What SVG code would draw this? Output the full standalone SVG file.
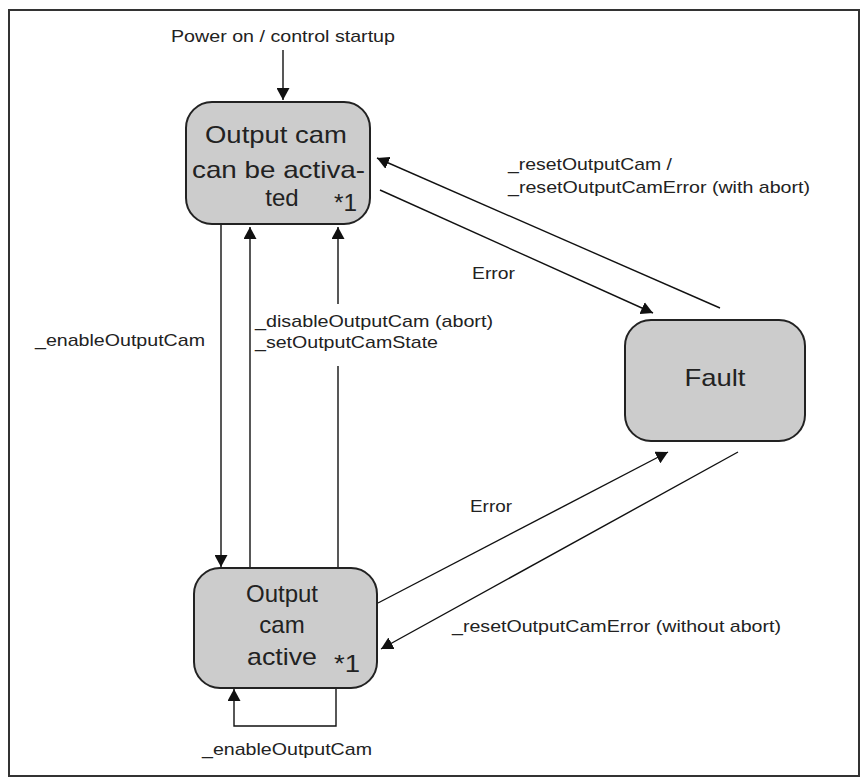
<svg xmlns="http://www.w3.org/2000/svg" width="861" height="782" viewBox="0 0 861 782">
<style>
.node{fill:#cccccc;stroke:#222;stroke-width:2}
.lbl{font-family:"Liberation Sans",Arial,sans-serif;font-size:17px;fill:#222}
.nt{font-family:"Liberation Sans",Arial,sans-serif;font-size:24px;fill:#222}
.c{fill:none;stroke:#111;stroke-width:1.4}
</style>
<defs>
<marker id="ah" markerUnits="userSpaceOnUse" markerWidth="13" markerHeight="13" refX="12" refY="6.5" orient="auto">
<path d="M0,0 L12,6.5 L0,13 z" fill="#111"/>
</marker>
</defs>
<rect x="9" y="10" width="850" height="766" fill="#fff" stroke="#333" stroke-width="2"/>
<g id="connectors">
<line class="c" x1="283" y1="50" x2="283" y2="100" marker-end="url(#ah)"/>
<line class="c" x1="221" y1="224" x2="221" y2="567" marker-end="url(#ah)"/>
<line class="c" x1="250" y1="568" x2="250" y2="227" marker-end="url(#ah)"/>
<line class="c" x1="338" y1="568" x2="338" y2="366"/>
<line class="c" x1="338" y1="304" x2="338" y2="227" marker-end="url(#ah)"/>
<line class="c" x1="720" y1="308" x2="377" y2="158" marker-end="url(#ah)"/>
<line class="c" x1="380" y1="190" x2="653" y2="313" marker-end="url(#ah)"/>
<line class="c" x1="378" y1="603" x2="668" y2="452" marker-end="url(#ah)"/>
<line class="c" x1="738" y1="452" x2="381" y2="649" marker-end="url(#ah)"/>
<polyline class="c" points="336,688 336,726 234,726 234,689" marker-end="url(#ah)"/>
<text class="lbl" x="171" y="42" textLength="224" lengthAdjust="spacingAndGlyphs">Power on / control startup</text>
<text class="lbl" x="35" y="346" textLength="170" lengthAdjust="spacingAndGlyphs">_enableOutputCam</text>
<text class="lbl" x="255" y="327" textLength="238" lengthAdjust="spacingAndGlyphs">_disableOutputCam (abort)</text>
<text class="lbl" x="255" y="348" textLength="183" lengthAdjust="spacingAndGlyphs">_setOutputCamState</text>
<text class="lbl" x="508" y="170" textLength="164" lengthAdjust="spacingAndGlyphs">_resetOutputCam /</text>
<text class="lbl" x="508" y="193" textLength="302" lengthAdjust="spacingAndGlyphs">_resetOutputCamError (with abort)</text>
<text class="lbl" x="472" y="279" textLength="43" lengthAdjust="spacingAndGlyphs">Error</text>
<text class="lbl" x="470" y="512" textLength="42" lengthAdjust="spacingAndGlyphs">Error</text>
<text class="lbl" x="452" y="632" textLength="329" lengthAdjust="spacingAndGlyphs">_resetOutputCamError (without abort)</text>
<text class="lbl" x="202" y="755" textLength="170" lengthAdjust="spacingAndGlyphs">_enableOutputCam</text>
</g>
<g id="node-activatable">
<rect class="node" x="186" y="102" width="184" height="122" rx="26" ry="26"/>
<text class="nt" x="205" y="143" textLength="142" lengthAdjust="spacingAndGlyphs">Output cam</text>
<text class="nt" x="192" y="178" textLength="173" lengthAdjust="spacingAndGlyphs">can be activa-</text>
<text class="nt" x="282" y="206" text-anchor="middle">ted</text>
<text class="nt" x="334" y="211" textLength="23" lengthAdjust="spacingAndGlyphs">*1</text>
</g>
<g id="node-fault">
<rect class="node" x="625" y="320" width="180" height="121" rx="26" ry="26"/>
<text class="nt" x="715" y="386" text-anchor="middle" textLength="61" lengthAdjust="spacingAndGlyphs">Fault</text>
</g>
<g id="node-active">
<rect class="node" x="194" y="568" width="183" height="120" rx="26" ry="26"/>
<text class="nt" x="282" y="602" text-anchor="middle">Output</text>
<text class="nt" x="282" y="633" text-anchor="middle">cam</text>
<text class="nt" x="247" y="665" textLength="70" lengthAdjust="spacingAndGlyphs">active</text>
<text class="nt" x="334" y="672" textLength="26" lengthAdjust="spacingAndGlyphs">*1</text>
</g>
</svg>
